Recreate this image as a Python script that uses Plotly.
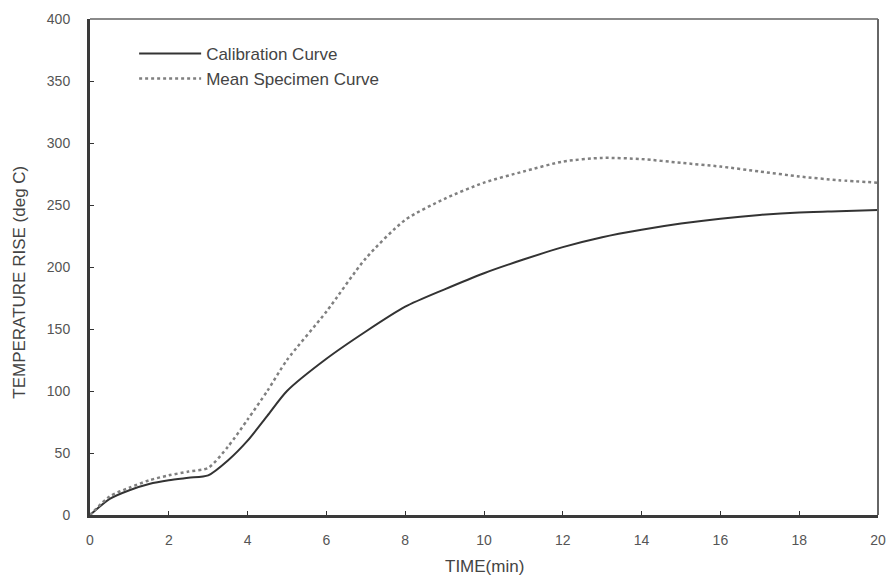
import plotly.graph_objects as go

time_min = [0, 0.5, 1, 1.5, 2, 2.5, 3, 3.5, 4, 4.5, 5, 6, 7, 8, 9, 10, 11, 12, 13, 14, 15, 16, 17, 18, 19, 20]
calibration = [0, 13, 20, 25, 28, 30, 32, 44, 60, 80, 100, 126, 148, 168, 182, 195, 206, 216, 224, 230, 235, 239, 242, 244, 245, 246]
mean_specimen = [0, 15, 22, 28, 32, 35, 38, 55, 77, 100, 125, 164, 207, 238, 255, 268, 277, 285, 288, 287, 284, 281, 277, 273, 270, 268]

x_ticks = [0, 2, 4, 6, 8, 10, 12, 14, 16, 18, 20]
y_ticks = [0, 50, 100, 150, 200, 250, 300, 350, 400]

font = "Liberation Sans, Arial, sans-serif"

fig = go.Figure()
fig.add_trace(go.Scatter(x=time_min, y=calibration, mode="lines", name="Calibration Curve",
                         line=dict(color="#333333", width=2, shape="spline", smoothing=0.7)))
fig.add_trace(go.Scatter(x=time_min, y=mean_specimen, mode="lines", name="Mean Specimen Curve",
                         line=dict(color="#808080", width=2.5, dash="dot", shape="spline", smoothing=0.7)))

# frame: top and right edges (lighter than the main axes)
fig.add_shape(type="line", xref="paper", yref="paper", x0=0, x1=1, y0=1, y1=1,
              line=dict(color="#8a8a8a", width=2))
fig.add_shape(type="line", xref="paper", yref="paper", x0=1, x1=1, y0=0, y1=1,
              line=dict(color="#666666", width=2))

fig.add_annotation(text="TIME(min)", xref="paper", yref="paper", x=0.5, y=-0.103,
                   showarrow=False, font=dict(family=font, size=17, color="#444"),
                   xanchor="center", yanchor="middle")
fig.add_annotation(text="TEMPERATURE RISE (deg C)", xref="paper", yref="paper", x=-0.089, y=0.47,
                   showarrow=False, textangle=-90, font=dict(family=font, size=17, color="#444"),
                   xanchor="center", yanchor="middle")

fig.update_layout(
    width=891, height=581,
    margin=dict(l=90, r=13, t=19, b=66),
    paper_bgcolor="white", plot_bgcolor="white",
    font=dict(family=font, color="#444"),
    showlegend=True,
    legend=dict(x=0.056, y=0.966, xanchor="left", yanchor="top", bgcolor="rgba(0,0,0,0)",
                font=dict(size=17, color="#444"), itemwidth=62, tracegroupgap=0),
    xaxis=dict(range=[0, 20], tickvals=x_ticks, ticks="inside", ticklen=4, tickcolor="#333",
               showgrid=False, zeroline=False, showline=True, linecolor="#3a3a3a", linewidth=3,
               tickfont=dict(size=14, color="#555"), ticklabelstandoff=10, automargin=False),
    yaxis=dict(range=[0, 400], tickvals=y_ticks, ticks="inside", ticklen=4, tickcolor="#333",
               showgrid=False, zeroline=False, showline=True, linecolor="#3a3a3a", linewidth=3,
               tickfont=dict(size=14, color="#555"), ticklabelstandoff=14, automargin=False),
)

fig.write_html("out.html", config={"displayModeBar": False},
               post_script="document.body.style.margin='0';document.body.style.overflow='hidden';")
